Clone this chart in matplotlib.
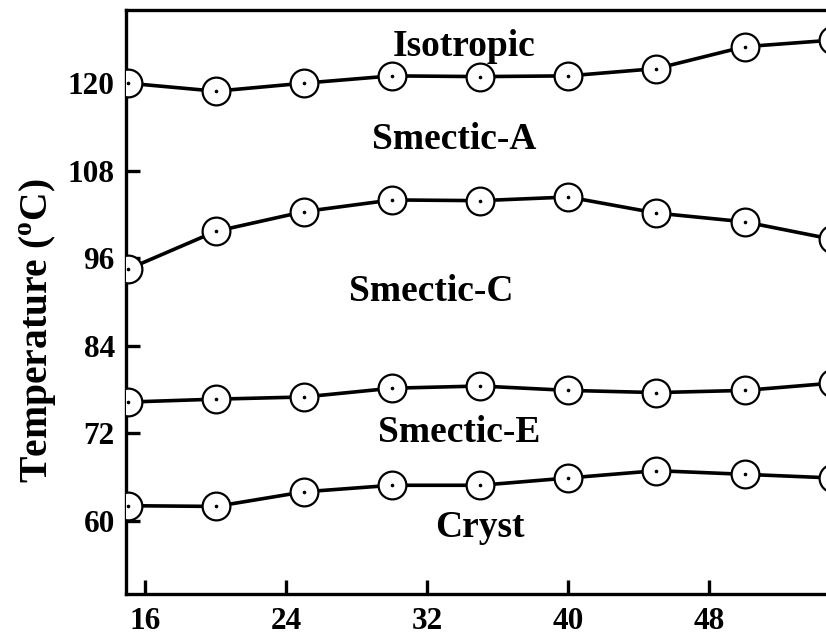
import matplotlib
matplotlib.use("Agg")
import matplotlib.pyplot as plt

plt.rcParams['font.family'] = ['Liberation Serif', 'DejaVu Serif']
plt.rcParams['font.weight'] = 'bold'
plt.rcParams['mathtext.fontset'] = 'custom'
plt.rcParams['mathtext.rm'] = 'Liberation Serif:bold'
plt.rcParams['mathtext.bf'] = 'Liberation Serif:bold'

x_vals = [15, 20, 25, 30, 35, 40, 45, 50, 55]
iso_line = [120.0, 118.9, 120.0, 121.0, 120.9, 121.0, 122.0, 125.0, 125.9]
smA_line = [94.5, 99.7, 102.4, 104.0, 103.9, 104.4, 102.2, 101.0, 98.6]
smC_line = [76.3, 76.7, 77.0, 78.2, 78.5, 77.9, 77.6, 77.9, 78.9]
cry_line = [62.1, 62.0, 64.0, 64.9, 64.9, 65.9, 66.9, 66.4, 65.9]
series = [iso_line, smA_line, smC_line, cry_line]

phase_labels = ["Isotropic", "Smectic-A", "Smectic-C", "Smectic-E", "Cryst"]
label_x = [34.1, 33.5, 32.2, 33.8, 35.0]
label_y = [125.0, 112.3, 91.5, 72.1, 59.1]

x_ticks = [16, 24, 32, 40, 48]
y_ticks = [60, 72, 84, 96, 108, 120]

fig = plt.figure(figsize=(8.26, 6.37), dpi=100)
ax = fig.add_axes([0.1525, 0.0675, 0.877, 0.9165])

for s in series:
    ax.plot(x_vals, s, color='black', lw=2.6, marker='o', ms=20,
            mfc='white', mec='black', mew=1.6, zorder=3)
    ax.plot(x_vals, s, ls='none', marker='o', ms=1.6, color='black', zorder=4)

for t, xx, yy in zip(phase_labels, label_x, label_y):
    ax.text(xx, yy, t, ha='center', va='center', fontsize=27, fontweight='bold')

ax.set_xlim(14.9, 56)
ax.set_ylim(50, 130)
ax.set_xticks(x_ticks)
ax.set_yticks(y_ticks)
ax.tick_params(direction='in', length=10, width=2.4, labelsize=22.5)
ax.tick_params(axis='x', pad=9)
ax.tick_params(axis='y', pad=8)
for lab in ax.get_xticklabels() + ax.get_yticklabels():
    lab.set_fontweight('bold')
for sp in ax.spines.values():
    sp.set_linewidth(2.4)

ax.set_ylabel(r'Temperature ($^{\mathbf{o}}$C)', fontsize=28.5, fontweight='bold')
ax.yaxis.set_label_coords(-0.093, 0.452)

fig.savefig('out.png', dpi=100)
